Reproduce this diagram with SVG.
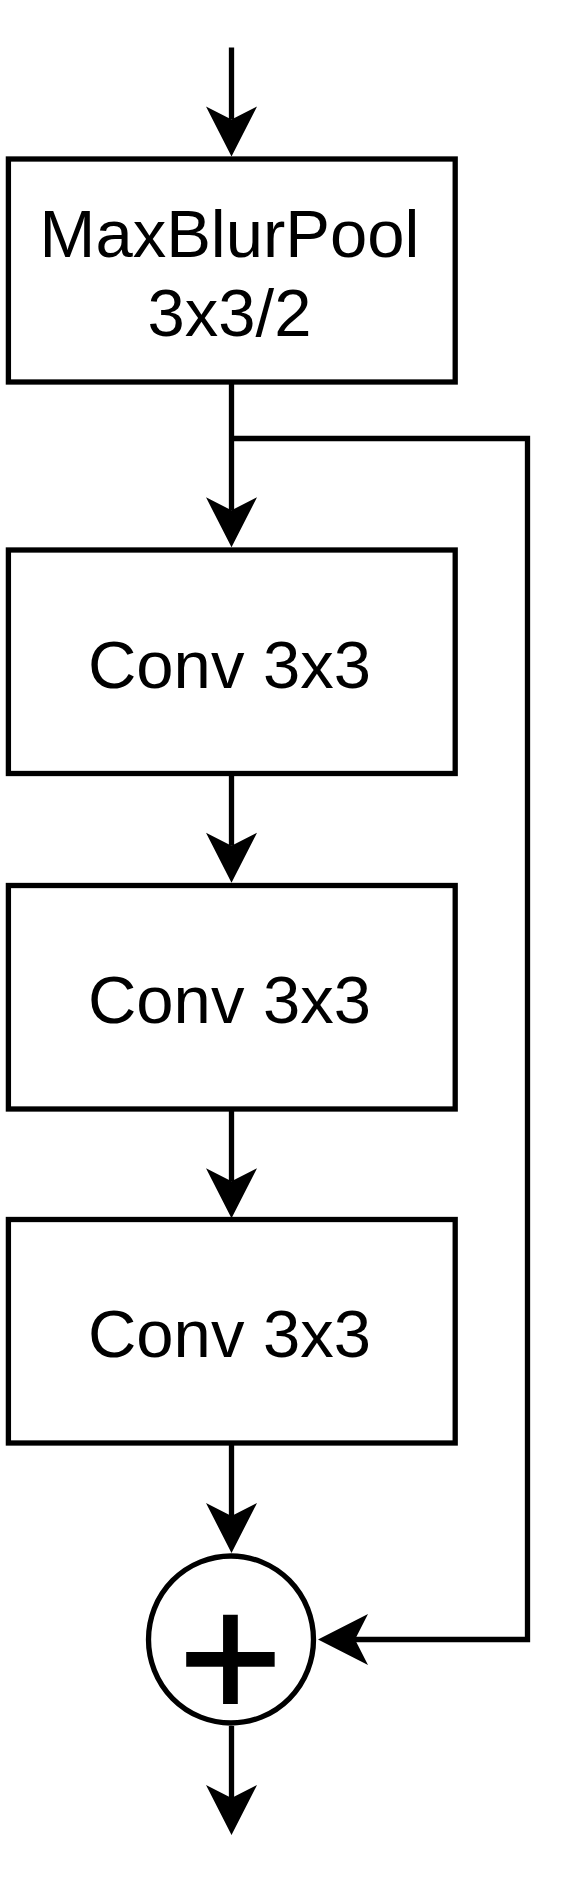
<svg xmlns="http://www.w3.org/2000/svg" width="582" height="1882" viewBox="0 0 582 1882">
  <style>
    .box { fill: #ffffff; stroke: #000000; stroke-width: 5.3; }
    .edge { fill: none; stroke: #000000; stroke-width: 5.3; marker-end: url(#arr); }
    .lbl { font-family: "Liberation Sans", Arial, Helvetica, sans-serif; font-size: 67px; fill: #000000; text-anchor: middle; }
    .plus { font-family: "Liberation Sans", Arial, Helvetica, sans-serif; font-size: 178px; font-weight: normal; fill: #000000; stroke: #000000; stroke-width: 2; text-anchor: middle; }
  </style>
  <defs>
    <marker id="arr" markerUnits="userSpaceOnUse" markerWidth="54" markerHeight="54" viewBox="-14 -27 54 54" refX="0" refY="0" orient="auto">
      <path d="M37,0 L-13,-25.5 L0,0 L-13,25.5 Z" fill="#000000" stroke="none"/>
    </marker>
  </defs>
  <rect width="582" height="1882" fill="#ffffff"/>
  <g id="edges">
    <path class="edge" d="M231.5,47.5 V119.5"/>
    <path class="edge" d="M231.5,382 V510.3"/>
    <path class="edge" d="M231.5,773.5 V845.8"/>
    <path class="edge" d="M231.5,1109 V1181.3"/>
    <path class="edge" d="M231.5,1443 V1516"/>
    <path class="edge" d="M231.5,1726 V1798"/>
    <path class="edge" d="M231.5,438.5 H527.5 V1639.5 H355"/>
  </g>
  <g id="maxblurpool">
    <rect class="box" x="8.4" y="159" width="446.8" height="223"/>
    <text class="lbl" x="229.5" y="257">MaxBlurPool</text>
    <text class="lbl" x="229.5" y="336">3x3/2</text>
  </g>
  <g id="conv1">
    <rect class="box" x="8.4" y="550" width="446.8" height="223.5"/>
    <text class="lbl" x="229.5" y="687.5">Conv 3x3</text>
  </g>
  <g id="conv2">
    <rect class="box" x="8.4" y="885.5" width="446.8" height="223.5"/>
    <text class="lbl" x="229.5" y="1023">Conv 3x3</text>
  </g>
  <g id="conv3">
    <rect class="box" x="8.4" y="1219.5" width="446.8" height="223.5"/>
    <text class="lbl" x="229.5" y="1357">Conv 3x3</text>
  </g>
  <g id="sum">
    <ellipse class="box" cx="231" cy="1639.5" rx="82.5" ry="83.5"/>
    <text class="plus" x="230.5" y="1718.5">+</text>
  </g>
</svg>
